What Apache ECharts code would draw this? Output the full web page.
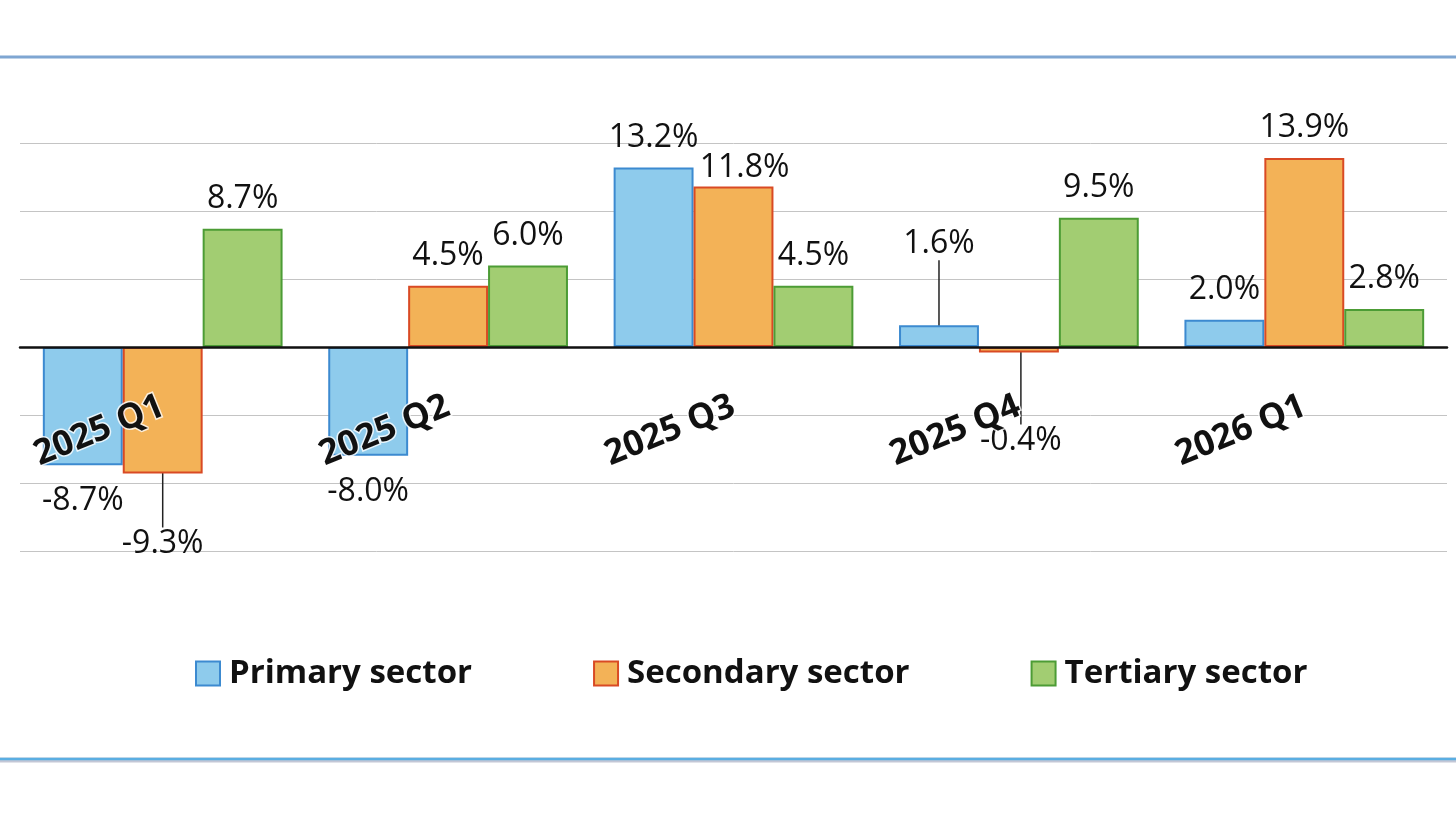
<!DOCTYPE html>
<html>
<head>
<meta charset="utf-8">
<script src="https://cdn.jsdelivr.net/npm/echarts@6/dist/echarts.min.js"></script>
<style>
html,body{margin:0;padding:0;background:#fff;}
#chart{width:1456px;height:819px;}
</style>
</head>
<body>
<div id="chart"></div>
<script>
const categories = ['2025 Q1', '2025 Q2', '2025 Q3', '2025 Q4', '2026 Q1'];
const seriesNames = ['Primary sector', 'Secondary sector', 'Tertiary sector'];
const primary = [-8.7, -8.0, 13.2, 1.6, 2.0];
const secondary = [-9.3, 4.5, 11.8, -0.4, 13.9];
const tertiary = [8.7, 6.0, 4.5, 9.5, 2.8];
const yTicks = [-15, -10, -5, 0, 5, 10, 15];

const fills = ['#8ECBEC', '#F3B257', '#A2CD72'];
const borders = ['#3C8AD0', '#D94A24', '#4C9C35'];

// label displacements (layout only): key = seriesIndex-dataIndex
const labelMoves = {
  '0-3': { dx: 0, dy: -51, line: true },
  '1-0': { dx: 0, dy: 34, line: true },
  '1-3': { dx: 2, dy: 52, line: true },
  '1-2': { dx: 11, dy: 11, line: false }
};

const FONT = '"Open Sans", "DejaVu Sans", sans-serif';

function buildSeries(values, si) {
  return {
    name: seriesNames[si],
    type: 'bar',
    barGap: '0%',
    barCategoryGap: '16%',
    itemStyle: { color: fills[si], borderColor: borders[si], borderWidth: 2 },
    label: {
      show: true,
      fontFamily: FONT,
      fontSize: 32,
      color: '#111',
      formatter: p => p.value.toFixed(1) + '%'
    },
    labelLine: { show: false, lineStyle: { color: '#222', width: 1.5 } },
    labelLayout: function (params) {
      const m = labelMoves[params.seriesIndex + '-' + params.dataIndex];
      if (m) return { dx: m.dx, dy: m.dy };
      return {};
    },
    data: values.map((v, di) => {
      const m = labelMoves[si + '-' + di];
      return {
        value: v,
        label: { position: v < 0 ? 'bottom' : 'top', distance: v < 0 ? 20 : 14 },
        labelLine: { show: !!(m && m.line) }
      };
    })
  };
}

const chart = echarts.init(document.getElementById('chart'));
chart.setOption({
  backgroundColor: '#fff',
  animation: false,
  textStyle: { fontFamily: FONT },
  grid: { left: 20, right: 9, top: 143, bottom: 268, containLabel: false },
  legend: {
    data: seriesNames,
    left: 190,
    top: 652,
    icon: 'rect',
    itemWidth: 24,
    itemHeight: 24,
    itemGap: 121,
    textStyle: { fontFamily: FONT, fontSize: 33, fontWeight: 'bold', color: '#111', padding: [0, 0, 0, 4] }
  },
  xAxis: {
    type: 'category',
    data: categories,
    z: 10,
    axisLine: { onZero: true, lineStyle: { color: '#111', width: 2.5 } },
    axisTick: { show: false },
    axisLabel: {
      interval: 0,
      rotate: 22,
      margin: -146,
      fontFamily: FONT,
      fontSize: 35,
      fontWeight: 'bold',
      color: '#111',
      textBorderColor: 'rgba(255,255,255,0.8)',
      textBorderWidth: 3
    }
  },
  yAxis: {
    type: 'value',
    min: yTicks[0],
    max: yTicks[yTicks.length - 1],
    interval: 5,
    axisLabel: { show: false },
    axisLine: { show: false },
    axisTick: { show: false },
    splitLine: { lineStyle: { color: '#C4C4C4', width: 1 } }
  },
  graphic: [
    { type: 'line', shape: { x1: 0, y1: 57, x2: 1456, y2: 57 }, style: { stroke: '#7FA6D2', lineWidth: 3 } },
    { type: 'line', shape: { x1: 0, y1: 760, x2: 1456, y2: 760 }, style: { stroke: '#C3C7D6', lineWidth: 5 } },
    { type: 'line', shape: { x1: 0, y1: 759, x2: 1456, y2: 759 }, style: { stroke: '#5AAEE2', lineWidth: 2.5 } }
  ],
  series: [buildSeries(primary, 0), buildSeries(secondary, 1), buildSeries(tertiary, 2)]
});
</script>
</body>
</html>
